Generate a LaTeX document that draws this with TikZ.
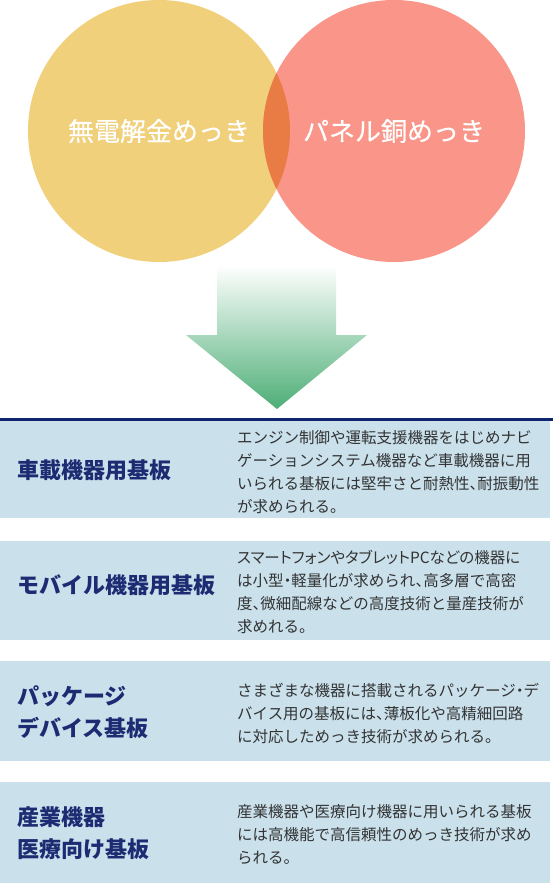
\documentclass[tikz,border=0pt]{standalone}
\usepackage{fontspec}
\setmainfont{Noto Sans CJK JP}
\newfontfamily\descfont[RawFeature=+halt]{Noto Sans CJK JP}
\newfontfamily\platefont[FakeBold=0.3]{Noto Sans CJK JP}
\usetikzlibrary{positioning}
\definecolor{goldplate}{HTML}{F0D07B}
\definecolor{copperplate}{HTML}{F99689}
\definecolor{bothplate}{HTML}{E97B44}
\definecolor{arrowgreen}{HTML}{4DAE76}
\definecolor{navyline}{HTML}{0F2570}
\definecolor{rowblue}{HTML}{CAE1EC}
\definecolor{titlenavy}{HTML}{1C2B72}
\definecolor{desctext}{HTML}{333333}
\begin{document}
\begin{tikzpicture}[x=1pt, y=-1pt,
    platecircle/.style={circle, minimum size=262pt, inner sep=0pt},
    platelabel/.style={text=white, inner sep=0pt, font=\platefont\fontsize{26}{26}\selectfont},
    rowbox/.style={rectangle, fill=rowblue, minimum width=550pt, anchor=north west, inner sep=0pt},
    rowtitle/.style={anchor=west, align=left, inner sep=0pt, text=titlenavy, font=\bfseries\fontsize{22}{32}\selectfont},
    rowtext/.style={anchor=west, align=left, inner sep=0pt, text=desctext, font=\descfont\fontsize{15.5}{23}\selectfont},
]
\useasboundingbox (0,0) rectangle (553,883);
\node[platecircle, fill=goldplate](goldc) at (159,131) {};
\node[platecircle, fill=copperplate](copperc) at (394,131) {};
\begin{scope}
\clip (goldc.center) circle (131pt);
\fill[bothplate] (copperc.center) circle (131pt);
\end{scope}
\node[platelabel](goldlabel) at (goldc.center) {無電解金めっき};
\node[platelabel](copperlabel) at (copperc.center) {パネル銅めっき};
\shade[top color=white, middle color=arrowgreen!35, bottom color=arrowgreen]
    (217,265) -- (336,265) -- (336,335) -- (367,335) -- (277,409) -- (186,335) -- (217,335) -- cycle;
\fill[navyline] (0,418) rectangle (553,421);
\node[rowbox, minimum height=97pt](carrow) at (0,421) {};
\node[rowbox, minimum height=99pt](mobilerow) at (0,541) {};
\node[rowbox, minimum height=100pt](packagerow) at (0,661) {};
\node[rowbox, minimum height=101pt](industryrow) at (0,782) {};
\node[rowtitle](cartitle) at (17,470) {車載機器用基板};
\node[rowtitle](mobiletitle) at (17,585) {モバイル機器用基板};
\node[rowtitle](packagetitle) at (17,712) {パッケージ\\デバイス基板};
\node[rowtitle](industrytitle) at (17,833) {産業機器\\医療向け基板};
\node[rowtext](cartext) at (237,472) {エンジン制御や運転支援機器をはじめナビ\\ゲーションシステム機器など車載機器に用\\いられる基板には堅牢さと耐熱性、耐振動性\\が求められる。};
\node[rowtext](mobiletext) at (237,592) {{\addfontfeature{RawFeature=+palt}スマートフォンやタブレットPCなどの機器に}\\は小型・軽量化が求められ、高多層で高密\\度、微細配線などの高度技術と量産技術が\\求めれる。};
\node[rowtext](packagetext) at (237,713) {さまざまな機器に搭載されるパッケージ・デ\\バイス用の基板には、薄板化や高精細回路\\に対応しためっき技術が求められる。};
\node[rowtext](industrytext) at (237,834) {産業機器や医療向け機器に用いられる基板\\には高機能で高信頼性のめっき技術が求め\\られる。};
\end{tikzpicture}
\end{document}
